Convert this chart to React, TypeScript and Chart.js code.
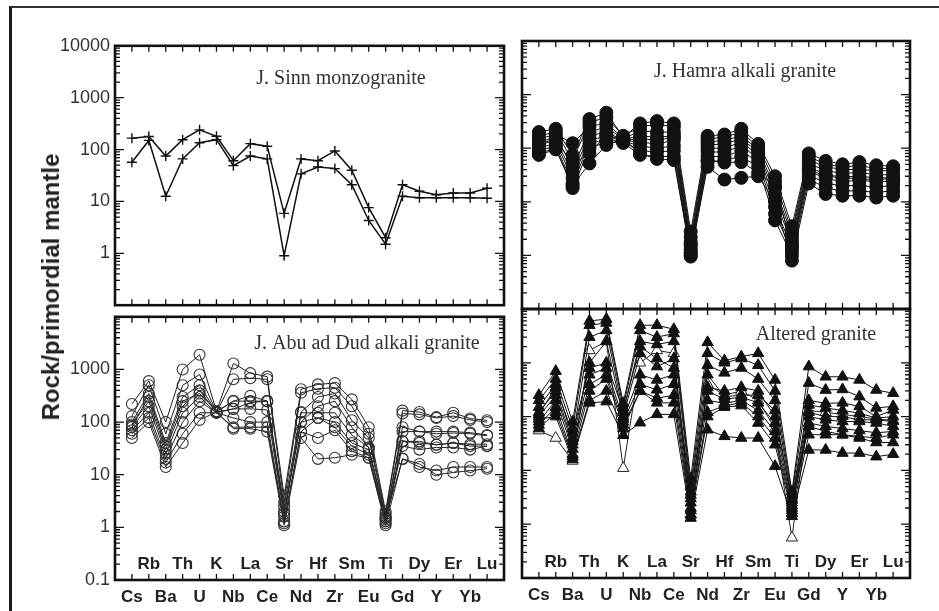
import { useEffect, useRef } from 'react';
import { Chart, registerables } from 'chart.js';

Chart.register(...registerables);

// Element order of the primitive-mantle normalised spider diagram
const ELEMENTS = ['Cs', 'Rb', 'Ba', 'Th', 'U', 'K', 'Nb', 'La', 'Ce', 'Sr', 'Nd', 'Hf', 'Zr', 'Sm', 'Eu', 'Ti', 'Gd', 'Dy', 'Y', 'Er', 'Yb', 'Lu'];

// J. Sinn monzogranite
const SINN_1 = [166, 178, 75, 155, 240, 180, 61, 130, 116, 5.9, 66, 61, 94, 40, 7.6, 2.0, 21, 15.7, 13.5, 14.5, 14.5, 18];
const SINN_2 = [57, 150, 12.6, 66, 135, 155, 49, 75, 66, 0.9, 34, 46, 43, 21, 4.3, 1.5, 12.6, 11.8, 11.8, 11.8, 11.8, 11.5];

// J. Hamra alkali granite
const HAMRA_1 = [200, 230, 75, 350, 460, 160, 290, 320, 290, 2.8, 170, 180, 230, 120, 30, 3.5, 80, 58, 50, 55, 48, 46];
const HAMRA_2 = [170, 200, 60, 300, 380, 170, 250, 280, 250, 2.2, 150, 160, 200, 105, 24, 2.8, 70, 50, 45, 47, 42, 42];
const HAMRA_3 = [150, 180, 124, 250, 300, 150, 210, 200, 200, 1.8, 130, 140, 170, 95, 18, 2.4, 60, 45, 40, 40, 38, 38];
const HAMRA_4 = [130, 160, 45, 200, 250, 145, 170, 160, 170, 1.5, 115, 120, 150, 85, 14, 2.0, 52, 38, 34, 35, 32, 32];
const HAMRA_5 = [115, 140, 35, 170, 200, 140, 130, 120, 140, 1.3, 100, 100, 130, 75, 11, 1.7, 45, 32, 29, 30, 28, 28];
const HAMRA_6 = [100, 125, 28, 140, 170, 135, 110, 100, 110, 1.15, 85, 85, 110, 65, 8, 1.4, 38, 27, 24, 25, 24, 24];
const HAMRA_7 = [90, 110, 22, 120, 150, 130, 90, 85, 90, 1.0, 70, 70, 90, 55, 6, 1.2, 32, 22, 20, 20, 19, 20];
const HAMRA_8 = [80, 100, 18, 100, 130, 125, 75, 70, 70, 0.95, 55, 60, 70, 45, 4.5, 1.0, 27, 18, 16, 16, 15, 16];
const HAMRA_9 = [75, 95, 20, 52, 115, 150, 80, 63, 60, 1.1, 45, 26, 28, 30, 10, 0.8, 22, 14, 13, 13, 12, 13];
const HAMRA_10 = [120, 150, 50, 80, 180, 140, 150, 140, 160, 1.6, 60, 54, 55, 35, 20, 1.5, 40, 30, 28, 27, 26, 27];

// J. Abu ad Dud alkali granite
const ABU_1 = [220, 600, 100, 1000, 1900, 160, 1300, 850, 730, 4, 420, 520, 550, 270, 80, 2, 165, 155, 124, 150, 117, 108];
const ABU_2 = [130, 500, 60, 500, 800, 155, 650, 680, 650, 3, 360, 430, 450, 200, 60, 1.8, 145, 140, 120, 130, 110, 100];
const ABU_3 = [100, 350, 40, 300, 500, 155, 250, 315, 250, 2.5, 155, 300, 350, 108, 50, 1.6, 80, 66, 66, 66, 63, 57];
const ABU_4 = [90, 250, 30, 200, 400, 155, 178, 235, 250, 2, 100, 200, 250, 80, 33, 1.5, 66, 66, 60, 62, 60, 55];
const ABU_5 = [80, 200, 25, 150, 300, 150, 178, 178, 170, 1.6, 150, 150, 150, 57, 33, 1.4, 43, 43, 37, 40, 35, 35];
const ABU_6 = [70, 150, 20, 100, 250, 150, 120, 100, 100, 1.3, 66, 120, 80, 35, 24, 1.3, 35, 30, 33, 33, 30, 35];
const ABU_7 = [60, 120, 17, 60, 150, 150, 80, 80, 80, 1.2, 66, 50, 70, 28, 21, 1.2, 43, 40, 37, 40, 38, 38];
const ABU_8 = [50, 100, 14, 40, 110, 155, 75, 75, 66, 1.1, 50, 20, 21, 24, 21, 1.1, 20, 14, 12, 14, 14, 14];
const ABU_9 = [85, 300, 35, 250, 350, 160, 250, 250, 250, 1.8, 100, 120, 100, 40, 30, 1.5, 20, 16, 10, 11, 12, 13];

// Altered granite (filled triangles, last series open)
const ALT_1 = [250, 700, 80, 6000, 6500, 178, 5000, 5000, 4200, 7, 2400, 1100, 1300, 1500, 480, 4, 850, 550, 550, 480, 312, 272];
const ALT_2 = [200, 500, 60, 5000, 5500, 150, 4000, 3000, 3500, 5, 1500, 1000, 1200, 900, 300, 3.5, 420, 312, 320, 235, 145, 155];
const ALT_3 = [150, 400, 40, 3000, 4000, 120, 2500, 2200, 2500, 4, 900, 650, 800, 500, 200, 3, 200, 177, 180, 155, 100, 133];
const ALT_4 = [120, 300, 35, 1000, 2500, 100, 1500, 850, 1200, 3, 600, 235, 250, 250, 130, 2.5, 165, 145, 130, 116, 94, 100];
const ALT_5 = [100, 250, 30, 600, 800, 90, 600, 480, 600, 2.5, 300, 210, 230, 180, 76, 2.2, 120, 100, 100, 87, 87, 81];
const ALT_6 = [80, 200, 25, 400, 600, 80, 400, 315, 400, 2, 200, 177, 200, 130, 53, 2, 100, 87, 81, 81, 76, 66];
const ALT_7 = [70, 150, 20, 300, 500, 70, 300, 220, 250, 1.8, 120, 160, 180, 100, 40, 1.8, 76, 66, 60, 55, 50, 53];
const ALT_8 = [60, 120, 18, 200, 300, 60, 300, 180, 180, 1.5, 100, 150, 160, 76, 30, 1.6, 46, 46, 46, 43, 40, 46];
const ALT_9 = [90, 100, 16, 180, 190, 45, 77, 110, 110, 1.3, 57, 43, 40, 40, 12, 1.4, 24, 24, 21, 21, 18, 20];
const ALT_10 = [110, 350, 50, 800, 1000, 130, 2000, 1200, 800, 3.5, 350, 300, 350, 300, 100, 2.8, 66, 53, 46, 40, 33, 33];
const ALT_11 = [55, 40, 15, 1700, 2500, 11, 1000, 1700, 1500, 1.5, 400, 250, 300, 200, 60, 0.56, 130, 120, 110, 100, 90, 85];

// Log axis tick values: 1..9 in every decade from 0.1 to 10000
const DECADES = [0.1, 1, 10, 100, 1000];
const Y_TICKS: number[] = [];
DECADES.forEach((d) => {
  for (let m = 1; m <= 9; m++) Y_TICKS.push(m * d);
});
Y_TICKS.push(10000);
const Y_MAJOR = [0.1, 1, 10, 100, 1000, 10000];
const UPPER_Y_LABELS = [1, 10, 100, 1000, 10000];
const LOWER_Y_LABELS = [0.1, 1, 10, 100, 1000];
const X_TICKS: number[] = [];
for (let i = -1; i <= ELEMENTS.length; i++) X_TICKS.push(i);

const SANS = '"Liberation Sans", Arial, Helvetica, sans-serif';
const SERIF = '"Liberation Serif", "Times New Roman", serif';

type Marker = { style: string; radius: number; fill: string; stroke: string; strokeWidth: number };

function series(values: number[], lineColor: string, lineWidth: number, m: Marker) {
  return {
    data: values.map((v, i) => ({ x: i, y: v })),
    borderColor: lineColor,
    borderWidth: lineWidth,
    pointStyle: m.style,
    pointRadius: m.radius,
    pointBackgroundColor: m.fill,
    pointBorderColor: m.stroke,
    pointBorderWidth: m.strokeWidth,
    tension: 0,
    fill: false,
  };
}

const PLUS: Marker = { style: 'cross', radius: 5, fill: '#111', stroke: '#111', strokeWidth: 1.4 };
const DOT: Marker = { style: 'circle', radius: 6.5, fill: '#111', stroke: '#111', strokeWidth: 1 };
const RING: Marker = { style: 'circle', radius: 5.5, fill: 'rgba(255,255,255,0)', stroke: '#333', strokeWidth: 1.1 };
const TRI: Marker = { style: 'triangle', radius: 6.5, fill: '#111', stroke: '#111', strokeWidth: 1 };
const OPEN_TRI: Marker = { style: 'triangle', radius: 6.5, fill: '#fff', stroke: '#222', strokeWidth: 1 };

interface PanelSpec {
  left: number;
  top: number;
  width: number;
  height: number;
  padding: { left: number; top: number; right: number; bottom: number };
  yWidth: number;
  xHeight: number;
  yLabels: number[];
  showX: boolean;
  title: string;
  titleDx: number;
  titleDy: number;
  datasets: any[];
}

const PANELS: PanelSpec[] = [
  {
    left: 20, top: 30, width: 494, height: 291,
    padding: { left: 0, top: 13, right: 10, bottom: 10 },
    yWidth: 95, xHeight: 0, yLabels: UPPER_Y_LABELS, showX: false,
    title: 'J. Sinn monzogranite', titleDx: 226, titleDy: 33,
    datasets: [SINN_1, SINN_2].map((s) => series(s, '#111', 1.5, PLUS)),
  },
  {
    left: 20, top: 301, width: 494, height: 310,
    padding: { left: 0, top: 10, right: 10, bottom: 1 },
    yWidth: 95, xHeight: 30, yLabels: LOWER_Y_LABELS, showX: true,
    title: 'J. Abu ad Dud alkali granite', titleDx: 252, titleDy: 27,
    datasets: [ABU_1, ABU_2, ABU_3, ABU_4, ABU_5, ABU_6, ABU_7, ABU_8, ABU_9].map((s) => series(s, '#222', 1, RING)),
  },
  {
    left: 512, top: 30, width: 408, height: 289,
    padding: { left: 0, top: 11, right: 10, bottom: 10 },
    yWidth: 10, xHeight: 0, yLabels: [], showX: false,
    title: 'J. Hamra alkali granite', titleDx: 223, titleDy: 31,
    datasets: [HAMRA_1, HAMRA_2, HAMRA_3, HAMRA_4, HAMRA_5, HAMRA_6, HAMRA_7, HAMRA_8, HAMRA_9, HAMRA_10].map((s) =>
      series(s, '#111', 1, DOT)
    ),
  },
  {
    left: 512, top: 299, width: 408, height: 312,
    padding: { left: 0, top: 10, right: 10, bottom: 3 },
    yWidth: 10, xHeight: 30, yLabels: [], showX: true,
    title: 'Altered granite', titleDx: 294, titleDy: 26,
    datasets: [
      ...[ALT_1, ALT_2, ALT_3, ALT_4, ALT_5, ALT_6, ALT_7, ALT_8, ALT_9, ALT_10].map((s) => series(s, '#111', 1, TRI)),
      series(ALT_11, '#222', 1, OPEN_TRI),
    ],
  },
];

// Frame, inward ticks, inner element names and panel caption
function panelDecor(spec: PanelSpec) {
  return {
    id: 'panelDecor',
    afterDatasetsDraw(chart: any) {
      const { ctx, chartArea: a, scales } = chart;
      const x = scales.x;
      const y = scales.y;
      ctx.save();
      ctx.strokeStyle = '#111';
      ctx.lineWidth = 1.3;
      ctx.beginPath();
      X_TICKS.forEach((v) => {
        const px = x.getPixelForValue(v);
        ctx.moveTo(px, a.top);
        ctx.lineTo(px, a.top + 6);
        ctx.moveTo(px, a.bottom);
        ctx.lineTo(px, a.bottom - 6);
      });
      Y_TICKS.forEach((v) => {
        const py = y.getPixelForValue(v);
        const len = Y_MAJOR.includes(v) ? 9 : 5;
        ctx.moveTo(a.left, py);
        ctx.lineTo(a.left + len, py);
        ctx.moveTo(a.right, py);
        ctx.lineTo(a.right - len, py);
      });
      ctx.stroke();
      ctx.lineWidth = 2.6;
      ctx.strokeRect(a.left, a.top, a.right - a.left, a.bottom - a.top);

      ctx.textAlign = 'center';
      ctx.textBaseline = 'middle';
      if (spec.showX) {
        ctx.font = `bold 17px ${SANS}`;
        ctx.fillStyle = '#222';
        ELEMENTS.forEach((e, i) => {
          if (i % 2 === 1) ctx.fillText(e, x.getPixelForValue(i), a.bottom - 16);
        });
      }
      ctx.font = `20px ${SERIF}`;
      ctx.fillStyle = '#333';
      ctx.fillText(spec.title, a.left + spec.titleDx, a.top + spec.titleDy);
      ctx.restore();
    },
  };
}

function Panel({ spec }: { spec: PanelSpec }) {
  const ref = useRef<HTMLCanvasElement>(null);
  useEffect(() => {
    if (!ref.current) return;
    const chart = new Chart(ref.current, {
      type: 'line',
      data: { datasets: spec.datasets },
      options: {
        animation: false,
        responsive: false,
        events: [],
        layout: { padding: spec.padding },
        plugins: { legend: { display: false }, tooltip: { enabled: false }, title: { display: false } },
        scales: {
          x: {
            type: 'linear',
            min: -1,
            max: ELEMENTS.length,
            afterBuildTicks: (s: any) => {
              s.ticks = X_TICKS.map((v) => ({ value: v }));
            },
            afterFit: (s: any) => {
              s.height = spec.xHeight;
            },
            grid: { display: false, drawTicks: false },
            border: { display: false },
            ticks: {
              display: spec.showX,
              autoSkip: false,
              maxRotation: 0,
              minRotation: 0,
              padding: 7,
              color: '#222',
              font: { family: SANS, size: 17, weight: 'bold' },
              callback: (v: any) => {
                const i = Math.round(Number(v));
                return i >= 0 && i < ELEMENTS.length && i % 2 === 0 ? ELEMENTS[i] : '';
              },
            },
          },
          y: {
            type: 'logarithmic',
            min: 0.1,
            max: 10000,
            afterBuildTicks: (s: any) => {
              s.ticks = Y_TICKS.map((v) => ({ value: v, major: Y_MAJOR.includes(v) }));
            },
            afterFit: (s: any) => {
              s.width = spec.yWidth;
            },
            grid: { display: false, drawTicks: false },
            border: { display: false },
            ticks: {
              display: spec.yLabels.length > 0,
              autoSkip: false,
              padding: 5,
              color: '#333',
              font: { family: SANS, size: 18 },
              callback: (v: any) => (spec.yLabels.includes(Number(v)) ? String(v) : ''),
            },
          },
        },
      } as any,
      plugins: [panelDecor(spec)],
    });
    return () => chart.destroy();
  }, [spec]);
  return (
    <canvas
      ref={ref}
      width={spec.width}
      height={spec.height}
      style={{ position: 'absolute', left: spec.left, top: spec.top, width: spec.width, height: spec.height }}
    />
  );
}

export default function App() {
  return (
    <div style={{ position: 'fixed', left: 0, top: 0, width: 939, height: 611, overflow: 'hidden', background: '#fff' }}>
      <div
        style={{
          position: 'absolute',
          left: 9,
          top: 6,
          width: 1000,
          height: 700,
          borderLeft: '3px solid #1a1a1a',
          borderTop: '2px solid #333',
        }}
      />
      {PANELS.map((p, i) => (
        <Panel key={i} spec={p} />
      ))}
      <div
        style={{
          position: 'absolute',
          left: 51,
          top: 287,
          transform: 'translate(-50%, -50%) rotate(-90deg)',
          whiteSpace: 'nowrap',
          font: `bold 24px ${SANS}`,
          color: '#222',
        }}
      >
        Rock/primordial mantle
      </div>
    </div>
  );
}
